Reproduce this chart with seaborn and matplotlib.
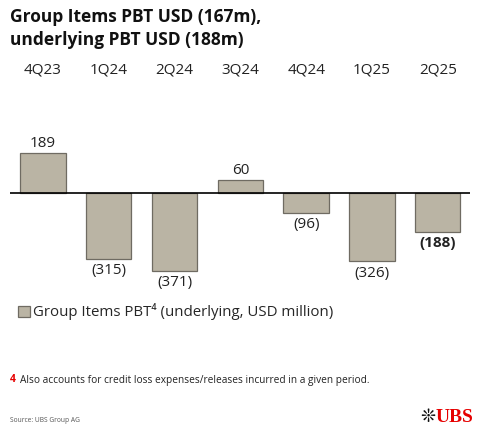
import matplotlib
matplotlib.use("Agg")
import matplotlib.pyplot as plt
import matplotlib.transforms as mtransforms
import pandas as pd
import seaborn as sns

quarters = ["4Q23", "1Q24", "2Q24", "3Q24", "4Q24", "1Q25", "2Q25"]
pbt_values = [189, -315, -371, 60, -96, -326, -188]
value_labels = ["189", "(315)", "(371)", "60", "(96)", "(326)", "(188)"]
bold_labels = [False, False, False, False, False, False, True]

bar_color = "#bab4a4"
edge_color = "#6f6b62"

sns.set_theme(style="white")
plt.rcParams["font.family"] = ["Open Sans", "DejaVu Sans"]

df = pd.DataFrame({"quarter": quarters, "pbt": pbt_values})

fig = plt.figure(figsize=(4.8, 4.34), dpi=100)
ax = fig.add_axes([10 / 480, (434 - 285) / 434, 460 / 480, 145 / 434])

sns.barplot(data=df, x="quarter", y="pbt", color=bar_color, width=0.69,
            edgecolor=edge_color, linewidth=0.9, saturation=1,
            label="Group Items PBT⁴ (underlying, USD million)", ax=ax)

ax.set_xlim(-0.5, 6.49)
ax.set_ylim(-438, 249)
ax.axhline(0, color="black", linewidth=1.2, zorder=3)
for s in ax.spines.values():
    s.set_visible(False)
ax.set_xticks([])
ax.set_yticks([])
ax.set_xlabel("")
ax.set_ylabel("")

# value labels above / below bars
for i, (v, lab, b) in enumerate(zip(pbt_values, value_labels, bold_labels)):
    off = 9 if v > 0 else -20
    ax.text(i, v + off, lab, ha="center", va="bottom" if v > 0 else "top",
            fontsize=11, fontweight="bold" if b else "normal", color="#222222")

# quarter labels along the top
trans = mtransforms.blended_transform_factory(ax.transData, fig.transFigure)
for i, q in enumerate(quarters):
    ax.text(i, 1 - 70 / 434, q, transform=trans, ha="center", va="center",
            fontsize=11, color="#222222")

# title
fig.text(10 / 480, 1 - 17 / 434, "Group Items PBT USD (167m),", fontsize=12.5,
         fontweight="bold", ha="left", va="center", color="#111111")
fig.text(10 / 480, 1 - 40 / 434, "underlying PBT USD (188m)", fontsize=12.5,
         fontweight="bold", ha="left", va="center", color="#111111")

# legend
ax.legend(loc="center left", bbox_to_anchor=(18 / 480, 1 - 312 / 434),
          bbox_transform=fig.transFigure, frameon=False, fontsize=10.8,
          handlelength=0.8, handleheight=0.8, handletextpad=0.2,
          borderaxespad=0, borderpad=0)

# footnote
fig.text(10 / 480, 1 - 380 / 434, "4", fontsize=7.5, fontweight="bold",
         color="#e60000", ha="left", va="center")
fig.text(20 / 480, 1 - 380 / 434,
         "Also accounts for credit loss expenses/releases incurred in a given period.",
         fontsize=7.3, color="#222222", ha="left", va="center")

# source
fig.text(10 / 480, 1 - 421 / 434, "Source: UBS Group AG", fontsize=4.8,
         color="#555555", ha="left", va="center")

# logo
fig.text(436 / 480, 1 - 417 / 434, "UBS", fontsize=14, fontweight="bold",
         family="Liberation Serif", color="#e60000", ha="left", va="center")
fig.text(428 / 480, 1 - 417 / 434, "❊", fontsize=13, family="DejaVu Sans",
         color="#111111", ha="center", va="center")

fig.savefig("out.png", dpi=100)
